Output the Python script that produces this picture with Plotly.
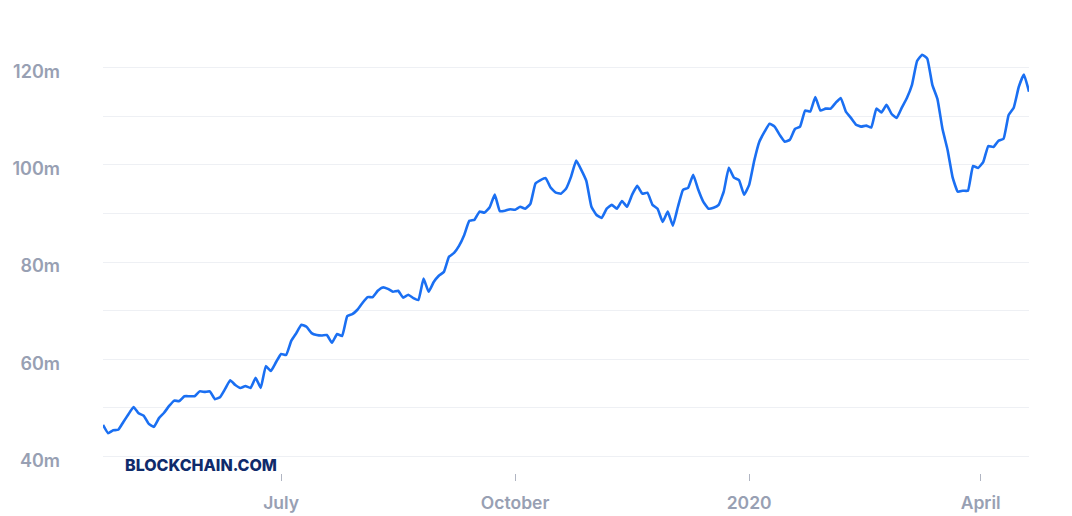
import pandas as pd
import plotly.graph_objects as go

# Hash rate (TH/s, in millions), read every 2 days from 2019-04-22
start_date = "2019-04-22"
hash_rate_m = [
    46.5, 44.8, 45.4, 45.5, 47.1, 48.7, 50.2, 48.9, 48.4, 46.7,
    46.1, 47.9, 49.0, 50.4, 51.5, 51.4, 52.4, 52.4, 52.4, 53.4,
    53.3, 53.4, 51.8, 52.2, 53.9, 55.7, 54.7, 54.1, 54.5, 54.1,
    56.2, 54.1, 58.6, 57.6, 59.4, 61.1, 60.9, 63.8, 65.4, 67.1,
    66.7, 65.4, 65.0, 64.9, 65.0, 63.4, 65.2, 64.8, 68.9, 69.3,
    70.2, 71.6, 72.8, 72.8, 74.1, 74.8, 74.5, 73.9, 74.1, 72.7,
    73.3, 72.6, 72.2, 76.6, 73.9, 75.9, 77.2, 78.0, 81.1, 81.9,
    83.4, 85.6, 88.5, 88.7, 90.4, 90.2, 91.3, 93.9, 90.5, 90.6,
    90.9, 90.8, 91.4, 91.0, 92.0, 96.2, 96.9, 97.3, 95.3, 94.3,
    94.1, 95.1, 97.6, 100.9, 99.0, 96.7, 91.4, 89.7, 89.1, 91.0,
    91.8, 91.0, 92.6, 91.4, 93.9, 95.7, 94.1, 94.3, 91.8, 91.0,
    88.3, 90.4, 87.5, 91.4, 94.9, 95.3, 98.0, 94.9, 92.4, 91.0,
    91.2, 91.8, 94.5, 99.4, 97.4, 96.9, 93.9, 95.9, 100.9, 104.8,
    106.8, 108.5, 107.9, 106.2, 104.8, 105.2, 107.4, 107.9, 111.2, 111.0,
    114.0, 111.2, 111.6, 111.6, 112.8, 113.8, 111.0, 109.7, 108.3, 107.9,
    108.1, 107.7, 111.6, 110.8, 112.4, 110.5, 109.7, 111.8, 113.8, 116.5,
    121.4, 122.7, 121.9, 116.5, 113.6, 107.4, 103.1, 97.4, 94.5, 94.7,
    94.7, 99.8, 99.4, 100.6, 103.9, 103.7, 105.0, 105.4, 110.3, 111.8,
    116.1, 118.6, 115.1,
]
dates = pd.date_range(start_date, periods=len(hash_rate_m), freq="2D")

y_tick_vals = [40, 60, 80, 100, 120]
y_tick_text = ["40m", "60m", "80m", "100m", "120m"]
x_tick_vals = ["2019-07-01", "2019-10-01", "2020-01-01", "2020-04-01"]
x_tick_text = ["July", "October", "2020", "April"]

LABEL_GREY = "#98a0b3"
GRID = "#eef0f4"

fig = go.Figure()
fig.add_trace(go.Scatter(
    x=dates, y=hash_rate_m, mode="lines",
    line=dict(color="#1a6ff2", width=2.6, shape="spline", smoothing=0.35),
    hoverinfo="skip", showlegend=False,
))

fig.update_layout(
    width=1072, height=516,
    margin=dict(l=103, r=43, t=19, b=43, autoexpand=False),
    paper_bgcolor="white", plot_bgcolor="white",
    font=dict(family="Inter", color=LABEL_GREY),
    xaxis=dict(
        range=[dates[0], dates[-1]],
        tickvals=x_tick_vals, ticktext=x_tick_text,
        showgrid=False, zeroline=False, showline=False,
        ticks="outside", ticklen=7, tickwidth=1, tickcolor="#b0b5c2",
        tickfont=dict(size=17.5, color=LABEL_GREY, family="Inter", weight=600),
        ticklabelstandoff=7, automargin=False,
    ),
    yaxis=dict(
        range=[36.6, 130.05],
        tickvals=y_tick_vals, ticktext=y_tick_text,
        showgrid=True, gridcolor=GRID, gridwidth=1,
        minor=dict(tickvals=[50, 70, 90, 110, 130], showgrid=True,
                   gridcolor=GRID, gridwidth=1),
        zeroline=False, showline=False, ticks="",
        tickfont=dict(size=18, color=LABEL_GREY, family="Inter", weight=600),
        ticklabelstandoff=42, ticklabelshift=4, automargin=False,
    ),
    annotations=[dict(
        text="BLOCKCHAIN.COM", xref="paper", yref="paper",
        x=0.0216, y=0.018, xanchor="left", yanchor="middle",
        showarrow=False,
        font=dict(family="Inter", size=16, color="#0f2b6b", weight=800),
    )],
)

fig.write_html(
    "out.html",
    config={"displayModeBar": False},
    post_script="document.body.style.margin='0';document.body.style.overflow='hidden';",
)
